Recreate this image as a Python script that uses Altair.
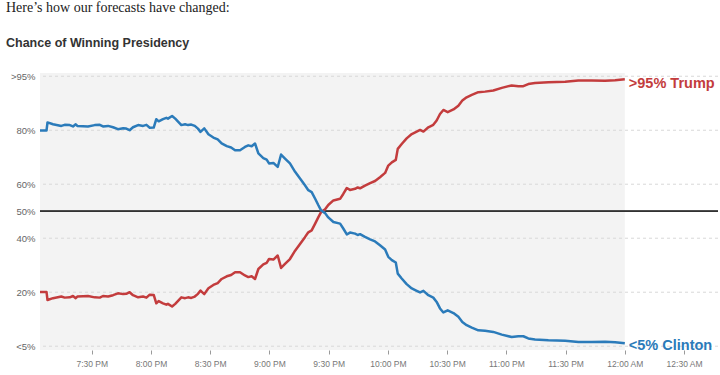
import altair as alt
import pandas as pd

# ---------------- data ----------------
minutes_after_7pm = [
    3.8, 7.1, 7.6, 10.4, 14.6, 16.3, 18.9, 20.5, 21.9, 22.7,
    25.6, 28.1, 31.5, 34.1, 35.7, 38.3, 40.8, 43.3, 45.9, 47.5,
    49.2, 50.9, 53.5, 56.0, 57.7, 59.4, 61.4, 62.7, 63.9, 66.1,
    67.8, 68.6, 70.7, 72.3, 75.4, 77.3, 78.8, 80.4, 82.2, 83.8,
    85.1, 87.0, 89.1, 91.6, 93.8, 95.8, 98.4, 100.6, 102.6, 105.1,
    107.6, 109.3, 111.0, 112.7, 114.4, 116.9, 118.6, 119.8, 122.0, 124.2,
    125.9, 127.9, 130.4, 133.0, 135.5, 138.0, 139.7, 141.4, 143.1, 144.8,
    146.1, 148.2, 149.8, 152.4, 155.8, 157.4, 159.2, 160.8, 163.4, 164.7,
    165.9, 168.4, 171.0, 173.5, 176.0, 178.6, 180.2, 182.0, 184.0, 185.0,
    187.0, 189.5, 192.1, 194.6, 196.3, 198.0, 200.5, 203.0, 204.7, 206.4,
    208.1, 210.3, 213.2, 215.7, 217.7, 219.9, 222.5, 225.8, 229.2, 233.4,
    237.7, 242.7, 246.1, 248.6, 251.1, 254.5, 261.3, 269.8, 276.5, 283.3,
    290.0, 295.1, 300.0,
]

clinton = [
    79.9, 79.9, 82.9, 82.2, 81.6, 82.0, 81.9, 81.4, 82.2, 81.6,
    81.5, 81.4, 81.9, 82.0, 81.4, 81.6, 81.1, 80.4, 80.7, 80.6,
    80.0, 81.1, 81.9, 81.6, 82.0, 80.9, 81.0, 84.1, 83.3, 84.1,
    84.6, 84.3, 85.3, 84.3, 81.9, 82.2, 81.9, 82.1, 81.6, 80.6,
    79.4, 80.7, 78.5, 77.3, 76.6, 75.1, 74.1, 73.6, 72.6, 72.6,
    73.8, 74.4, 74.1, 75.1, 71.4, 69.7, 69.1, 67.7, 67.9, 66.4,
    71.0, 69.5, 67.7, 64.6, 62.1, 59.6, 57.8, 57.1, 54.7, 52.2,
    50.4, 49.3, 47.7, 46.0, 45.4, 43.6, 41.4, 42.1, 41.7, 41.2,
    41.5, 40.5, 39.6, 38.8, 37.4, 35.8, 33.1, 31.9, 31.0, 26.9,
    25.1, 23.0, 21.4, 20.5, 19.9, 20.5, 18.9, 18.0, 16.4, 14.0,
    12.5, 13.3, 12.3, 10.9, 9.0, 7.8, 6.9, 5.9, 5.7, 5.3,
    4.3, 3.4, 3.7, 3.7, 2.9, 2.5, 2.2, 2.0, 1.6, 1.6,
    1.7, 1.5, 1.1,
]

trump = [
    20.1, 20.1, 17.1, 17.8, 18.4, 18.0, 18.1, 18.6, 17.8, 18.4,
    18.5, 18.6, 18.1, 18.0, 18.6, 18.4, 18.9, 19.6, 19.3, 19.4,
    20.0, 18.9, 18.1, 18.4, 18.0, 19.1, 19.0, 15.9, 16.7, 15.9,
    15.4, 15.7, 14.7, 15.7, 18.1, 17.8, 18.1, 17.9, 18.4, 19.4,
    20.6, 19.3, 21.5, 22.7, 23.4, 24.9, 25.9, 26.4, 27.4, 27.4,
    26.2, 25.6, 25.9, 24.9, 28.6, 30.3, 30.9, 32.3, 32.1, 33.6,
    29.0, 30.5, 32.3, 35.4, 37.9, 40.4, 42.2, 42.9, 45.3, 47.8,
    49.6, 50.7, 52.3, 54.0, 54.6, 56.4, 58.6, 57.9, 58.3, 58.8,
    58.5, 59.5, 60.4, 61.2, 62.6, 64.2, 66.9, 68.1, 69.0, 73.1,
    74.9, 77.0, 78.6, 79.5, 80.1, 79.5, 81.1, 82.0, 83.6, 86.0,
    87.5, 86.7, 87.7, 89.1, 91.0, 92.2, 93.1, 94.1, 94.3, 94.7,
    95.7, 96.6, 96.3, 96.3, 97.1, 97.5, 97.8, 98.0, 98.4, 98.4,
    98.3, 98.5, 98.9,
]

y_tick_values = [0, 20, 40, 50, 60, 80, 100]
grid_values = [0, 20, 40, 60, 80, 100]
title_line = "Here\u2019s how our forecasts have changed:"
subtitle_line = "Chance of Winning Presidency"
trump_label = ">95% Trump"
clinton_label = "<5% Clinton"

RED = "#c33c3d"
BLUE = "#2b7bba"

# ---------------- tables ----------------
base_time = pd.Timestamp("2016-11-08 19:00:00")
times = [base_time + pd.Timedelta(minutes=m) for m in minutes_after_7pm]
df = pd.DataFrame({"time": times, "clinton": clinton, "trump": trump})
shade = pd.DataFrame({"start": [times[0]], "end": [times[-1]]})
grid_df = pd.DataFrame({"v": grid_values})
last = df.iloc[[-1]]


def dt(day, h, m, s=0):
    return alt.DateTime(year=2016, month=11, date=day, hours=h, minutes=m, seconds=s)


x_ticks = [dt(8, 19, 30), dt(8, 20, 0), dt(8, 20, 30), dt(8, 21, 0), dt(8, 21, 30),
           dt(8, 22, 0), dt(8, 22, 30), dt(8, 23, 0), dt(8, 23, 30), dt(9, 0, 0), dt(9, 0, 30)]

W, H = 678, 277
x_scale = alt.Scale(domain=[dt(8, 19, 3, 48), dt(9, 0, 47, 12)], nice=False)
y_scale = alt.Scale(domain=[-1.4, 101.2], nice=False, zero=False)

x_axis = alt.Axis(
    values=x_ticks, format="%-I:%M %p", title=None, domain=False, grid=False,
    tickSize=4, tickColor="#9a9a9a", labelFontSize=8.5, labelColor="#777777",
    labelFont="Liberation Sans", labelPadding=5,
)
y_axis = alt.Axis(
    values=y_tick_values, title=None, domain=False, grid=False, ticks=False, tickSize=0,
    labelPadding=5, labelFontSize=9.5, labelColor="#666666", labelFont="Liberation Sans",
    labelExpr="datum.value == 100 ? '>95%' : (datum.value == 0 ? '<5%' : datum.value + '%')",
)

bg = alt.Chart(shade).mark_rect(color="#f3f3f3").encode(
    x=alt.X("start:T", scale=x_scale, axis=x_axis),
    x2="end:T",
    y=alt.value(0),
    y2=alt.value(H),
)

grid = alt.Chart(grid_df).mark_rule(color="#d8d8d8", strokeDash=[3, 3], strokeWidth=1).encode(
    y=alt.Y("v:Q", scale=y_scale, axis=y_axis)
)

fifty = alt.Chart(grid_df).mark_rule(color="#333333", strokeWidth=1).encode(
    y=alt.datum(50)
)

trump_line = alt.Chart(df).mark_line(color=RED, strokeWidth=2.5, strokeJoin="round").encode(
    x="time:T", y="trump:Q"
)
clinton_line = alt.Chart(df).mark_line(color=BLUE, strokeWidth=2.5, strokeJoin="round").encode(
    x="time:T", y="clinton:Q"
)

trump_text = alt.Chart(last).mark_text(
    align="left", baseline="alphabetic", dx=4, dy=8.5, fontSize=14.5, fontWeight="bold",
    font="Liberation Sans", color=RED, text=trump_label,
).encode(x="time:T", y="trump:Q")

clinton_text = alt.Chart(last).mark_text(
    align="left", baseline="alphabetic", dx=4, dy=7, fontSize=14.5, fontWeight="bold",
    font="Liberation Sans", color=BLUE, text=clinton_label,
).encode(x="time:T", y="clinton:Q")

titles = pd.DataFrame({"t": [title_line]})
subtitles = pd.DataFrame({"t": [subtitle_line]})
title_mark = alt.Chart(titles).mark_text(
    align="left", baseline="alphabetic", font="Liberation Serif", fontSize=14, color="#222222"
).encode(text="t:N", x=alt.value(-34), y=alt.value(-61))
subtitle_mark = alt.Chart(subtitles).mark_text(
    align="left", baseline="alphabetic", font="Liberation Sans", fontSize=12.5,
    fontWeight="bold", color="#333333"
).encode(text="t:N", x=alt.value(-34), y=alt.value(-26))

chart = alt.layer(
    bg, grid, fifty, trump_line, clinton_line, trump_text, clinton_text, title_mark, subtitle_mark
).properties(
    width=W, height=H,
    autosize=alt.AutoSizeParams(type="none"),
    padding={"left": 40, "top": 73, "right": 2, "bottom": 25},
    background="white",
).configure_view(stroke=None)

chart.save("out.html", embed_options={"renderer": "svg", "actions": False})
